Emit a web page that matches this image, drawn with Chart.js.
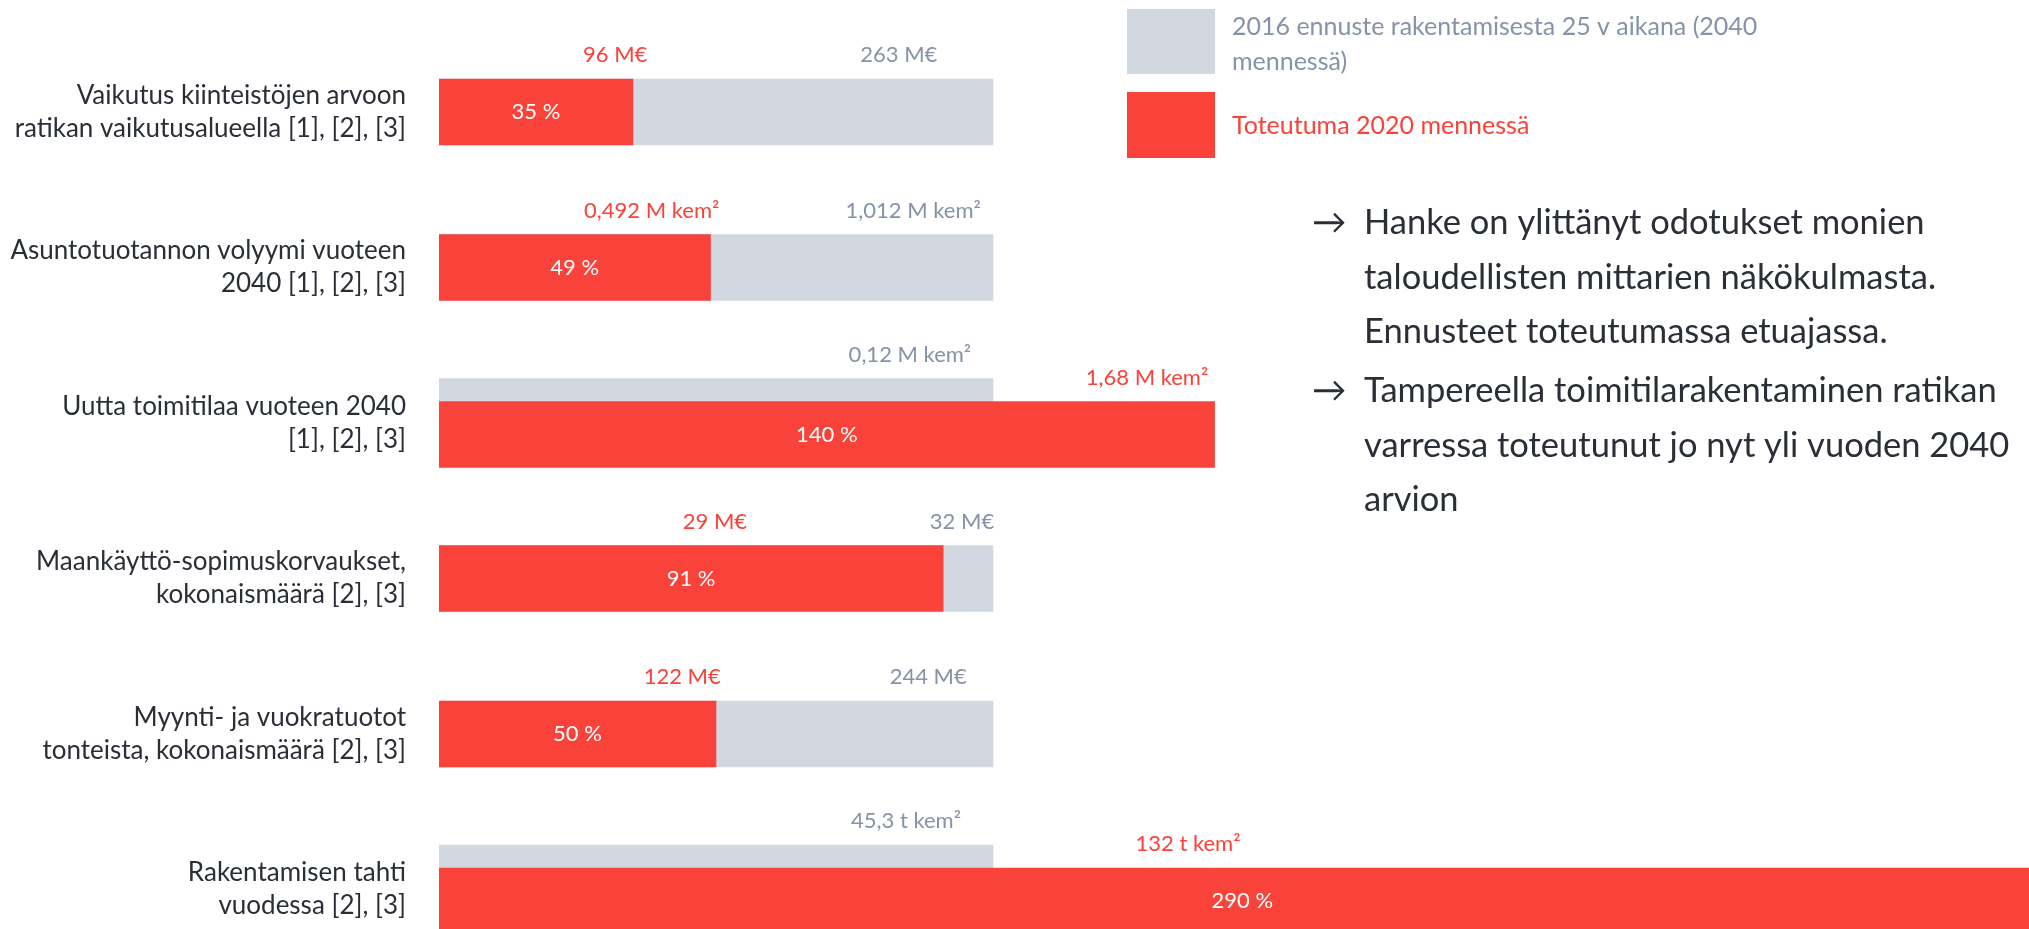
<!DOCTYPE html>
<html lang="fi">
<head>
<meta charset="utf-8">
<title>Ratikan taloudelliset vaikutukset</title>
<script src="https://cdn.jsdelivr.net/npm/chart.js@4.4.1/dist/chart.umd.min.js"></script>
<style>
  html, body { margin: 0; padding: 0; background: #fff; }
  canvas { display: block; }
</style>
</head>
<body>
<canvas id="chart" width="2029" height="929"></canvas>
<script>
// Data
const categories = [
    ['Vaikutus kiinteistöjen arvoon', 'ratikan vaikutusalueella [1], [2], [3]'],
    ['Asuntotuotannon volyymi vuoteen', '2040 [1], [2], [3]'],
    ['Uutta toimitilaa vuoteen 2040', '[1], [2], [3]'],
    ['Maankäyttö-sopimuskorvaukset,', 'kokonaismäärä [2], [3]'],
    ['Myynti- ja vuokratuotot', 'tonteista, kokonaismäärä [2], [3]'],
    ['Rakentamisen tahti', 'vuodessa [2], [3]']
];
const seriesNames = [
    ['2016 ennuste rakentamisesta 25 v aikana (2040', 'mennessä)'],
    ['Toteutuma 2020 mennessä']
];
const forecastPct = [100, 100, 100, 100, 100, 100];
const actualPct = [35, 49, 140, 91, 50, 290];
const forecastValues = ['263 M€', '1,012 M kem²', '0,12 M kem²', '32 M€', '244 M€', '45,3 t kem²'];
const actualValues = ['96 M€', '0,492 M kem²', '1,68 M kem²', '29 M€', '122 M€', '132 t kem²'];
const notes = [
    ['Hanke on ylittänyt odotukset monien', 'taloudellisten mittarien näkökulmasta.', 'Ennusteet toteutumassa etuajassa.'],
    ['Tampereella toimitilarakentaminen ratikan', 'varressa toteutunut jo nyt yli vuoden 2040', 'arvion']
];

// where the value texts sit along the x axis (axis units)
const forecastLabelAt = [83, 85.6, 85, 94.4, 88.3, 84.3];
const actualLabelAt = [31.8, 38.4, 127.8, 49.8, 43.9, 135.2];

const RED = '#f9423a';
const GREY = '#d1d8e0';
const GREY_TEXT = '#8592a7';
const DARK_TEXT = '#2a2e36';
const FONT = 'Lato, "Open Sans", sans-serif';

// rows where the result passes the forecast get the two bars pulled apart
const overlapShift = 0.074;
const rowShift = i => actualPct[i] > forecastPct[i] ? overlapShift : 0;

const valueLabels = {
    id: 'valueLabels',
    afterDatasetsDraw(chart) {
        const c = chart.ctx;
        const xs = chart.scales.x;
        const fMeta = chart.getDatasetMeta(0);
        const aMeta = chart.getDatasetMeta(1);
        c.save();
        c.font = `22px ${FONT}`;
        c.textAlign = 'center';
        c.textBaseline = 'middle';
        categories.forEach((_, i) => {
            const f = fMeta.data[i];
            const a = aMeta.data[i];
            c.fillStyle = GREY_TEXT;
            c.fillText(forecastValues[i], xs.getPixelForValue(forecastLabelAt[i]), f.y - f.height / 2 - 24);
            c.fillStyle = RED;
            c.fillText(actualValues[i], xs.getPixelForValue(actualLabelAt[i]), a.y - a.height / 2 - 24);
            c.fillStyle = '#fff';
            c.fillText(actualPct[i] + ' %', (a.x + a.base) / 2, a.y);
        });
        c.restore();
    }
};

// legend boxes and the notes on the right
const sidePanel = {
    id: 'sidePanel',
    afterDraw(chart) {
        const c = chart.ctx;
        const ds = chart.data.datasets;
        c.save();
        c.textAlign = 'left';
        c.textBaseline = 'middle';
        c.fillStyle = ds[0].backgroundColor;
        c.fillRect(1127, 9, 88, 65);
        c.fillStyle = ds[1].backgroundColor;
        c.fillRect(1127, 92, 88, 66);
        c.font = `25px ${FONT}`;
        c.fillStyle = GREY_TEXT;
        seriesNames[0].forEach((t, k) => c.fillText(t, 1232, 27 + k * 35));
        c.fillStyle = RED;
        seriesNames[1].forEach((t, k) => c.fillText(t, 1232, 126 + k * 35));

        c.font = `34.5px ${FONT}`;
        c.fillStyle = DARK_TEXT;
        notes.forEach((lines, n) => {
            const top = n === 0 ? 223 : 391;
            c.fillText('→', 1312, top);
            lines.forEach((t, k) => c.fillText(t, 1364, top + k * 54.5));
        });
        c.restore();
    }
};

const ctx = document.getElementById('chart').getContext('2d');
new Chart(ctx, {
    type: 'bar',
    data: {
        datasets: [{
            label: seriesNames[0].join(' '),
            data: categories.map((_, i) => ({ x: forecastPct[i], y: i - rowShift(i) })),
            backgroundColor: GREY,
            order: 1
        }, {
            label: seriesNames[1].join(' '),
            data: categories.map((_, i) => ({ x: actualPct[i], y: i + rowShift(i) })),
            backgroundColor: RED,
            order: 0
        }]
    },
    options: {
        responsive: false,
        animation: false,
        devicePixelRatio: 1,
        indexAxis: 'y',
        datasets: {
            bar: { barThickness: 66, grouped: false, borderWidth: 0 }
        },
        layout: { padding: 0 },
        plugins: {
            legend: { display: false },
            tooltip: { enabled: false }
        },
        scales: {
            x: { type: 'linear', display: false, min: 0, max: 287 },
            y: {
                type: 'linear',
                reverse: true,
                offset: false,
                min: -0.72,
                max: 5.254,
                afterFit: s => {
                    s.width = 439;
                    s.paddingTop = 0;
                    s.paddingBottom = 0;
                },
                afterBuildTicks: s => { s.ticks = categories.map((_, i) => ({ value: i })); },
                grid: { display: false, drawTicks: false, offset: false },
                border: { display: false },
                ticks: {
                    autoSkip: false,
                    padding: 33,
                    color: DARK_TEXT,
                    font: { family: FONT, size: 26, lineHeight: 1.27 },
                    callback: v => categories[v]
                }
            }
        }
    },
    plugins: [valueLabels, sidePanel]
});
</script>
</body>
</html>
